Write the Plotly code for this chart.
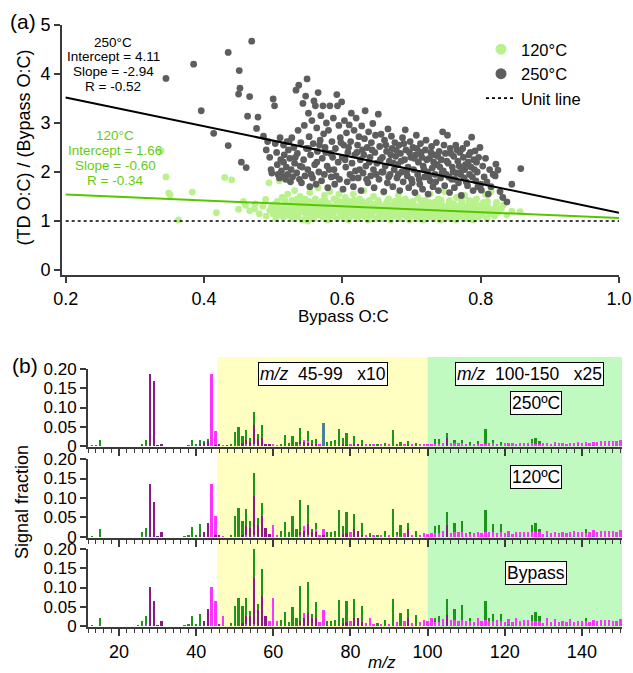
import plotly.graph_objects as go

# ---------------- Panel (a) data ----------------
gray_x = [0.345,0.385,0.396,0.414,0.435,0.435,0.450,0.451,0.452,0.454,0.461,0.463,0.466,0.469,0.476,0.478,0.486,0.490,0.492,0.495,0.497,0.498,
 0.500,0.502,0.503,0.505,0.506,0.507,0.509,0.510,0.511,0.512,0.513,0.515,0.516,0.518,0.519,0.520,
 0.521,0.522,0.524,0.525,0.526,0.527,0.528,0.530,0.531,0.533,0.534,0.535,0.536,0.537,0.538,0.539,0.540,0.541,0.543,0.544,0.545,0.546,0.547,0.548,0.549,0.550,
 0.551,0.552,0.553,0.554,0.556,0.557,0.558,0.559,0.560,0.561,0.562,0.563,0.564,0.565,0.566,0.568,0.569,0.570,0.571,0.572,0.573,0.574,0.575,0.577,0.578,0.579,0.580,0.582,0.583,0.584,0.585,0.587,0.588,0.589,0.590,0.592,0.593,0.594,0.595,0.596,0.597,0.599,0.600,
 0.601,0.602,0.603,0.605,0.606,0.607,0.608,0.610,0.611,0.612,0.613,0.614,0.616,0.617,0.618,0.619,0.620,0.622,0.623,0.624,0.626,0.627,0.628,0.629,0.630,0.632,0.633,0.634,0.636,0.637,0.638,0.640,0.641,0.642,0.644,0.645,0.646,0.647,0.648,0.650,
 0.652,0.653,0.654,0.656,0.657,0.658,0.660,0.661,0.662,0.664,0.665,0.666,0.668,0.669,0.671,0.672,0.673,0.675,0.676,0.677,0.679,0.680,0.682,0.683,0.684,0.686,0.687,0.688,0.690,0.691,0.692,0.694,0.695,0.696,0.698,0.699,0.700,
 0.702,0.703,0.705,0.706,0.707,0.709,0.710,0.712,0.713,0.714,0.716,0.717,0.719,0.720,0.721,0.723,0.724,0.726,0.727,0.729,0.730,0.731,0.733,0.734,0.736,0.737,0.739,0.740,0.742,0.743,0.745,0.746,0.748,0.749,0.750,
 0.752,0.753,0.755,0.756,0.758,0.759,0.761,0.762,0.764,0.765,0.767,0.768,0.770,0.772,0.773,0.775,0.776,0.778,0.780,0.781,0.783,0.784,0.786,0.787,0.789,0.790,0.792,0.793,0.795,0.797,0.799,0.800,
 0.801,0.803,0.805,0.807,0.809,0.811,0.813,0.815,0.818,0.821,0.822,0.825,0.828,0.832,0.838,0.845,0.858,
 0.515,0.523,0.532,0.542,0.551,0.555,0.563,0.567,0.576,0.581,0.586,0.591,0.598,0.604,0.609,0.615,0.621,0.625,0.631,0.635,
 0.639,0.643,0.649,0.655,0.659,0.663,0.667,0.670,0.674,0.678,0.681,0.685,0.689,0.693,0.697,0.701,0.704,0.708,0.711,0.715,
 0.718,0.722,0.725,0.728,0.732,0.735,0.738,0.741,0.744,0.747,0.751,0.754,0.757,0.760,0.763,0.766,0.769,0.771,0.774,0.777,
 0.779,0.782,0.785,0.788,0.791,0.794,0.796]
gray_y = [3.91,4.20,3.25,2.79,4.44,2.54,3.59,4.07,3.71,2.20,2.09,3.14,3.54,4.67,2.89,3.12,2.73,2.45,2.62,2.30,2.05,1.98,
 3.49,3.35,2.58,2.40,2.15,1.95,1.88,2.70,2.25,2.02,1.92,2.55,2.35,1.85,2.10,2.62,
 1.95,2.45,2.28,1.80,2.05,2.70,1.90,2.50,2.18,3.67,1.98,2.38,2.85,3.77,1.85,2.12,2.60,1.78,3.40,2.25,2.95,1.92,3.55,2.48,3.90,2.05,
 3.20,2.72,1.70,2.35,3.05,1.88,2.58,3.45,2.15,3.35,1.75,2.90,2.42,3.62,2.00,2.65,3.15,1.82,2.28,3.35,2.78,1.95,2.50,3.00,2.12,1.68,2.85,3.35,2.38,1.90,2.62,3.10,2.05,1.75,2.48,3.58,3.35,2.20,2.95,1.85,2.70,3.43,2.30,
 1.65,2.55,3.05,2.10,2.80,1.80,2.40,2.96,1.95,2.62,3.20,2.18,1.70,2.85,2.35,2.02,3.10,2.55,1.88,2.72,2.25,1.62,2.94,2.45,1.98,2.68,3.25,2.12,2.50,1.78,2.82,2.30,1.92,2.60,2.99,2.05,1.68,2.40,2.75,2.18,
 3.18,1.85,2.52,2.77,2.00,2.30,1.60,2.65,2.12,2.42,1.78,2.88,2.22,1.95,2.73,2.48,1.70,2.05,2.60,2.32,1.88,2.15,2.55,1.62,2.38,2.00,2.70,1.80,2.25,2.86,2.45,1.92,2.10,1.68,2.62,2.30,1.85,
 2.50,2.05,1.58,2.35,2.75,1.95,2.20,1.75,2.58,2.40,1.65,2.12,1.90,2.45,2.65,2.00,1.55,2.28,1.82,2.52,2.08,1.70,2.35,1.95,2.60,2.15,1.62,2.42,1.88,2.25,2.82,2.02,1.72,2.38,1.95,
 2.75,2.18,1.58,2.48,1.85,2.10,2.32,1.68,2.55,1.98,2.22,1.78,2.40,1.52,2.05,2.30,1.88,2.15,2.58,1.72,2.35,1.95,2.10,2.71,1.62,2.25,2.43,1.82,2.00,2.30,2.50,1.75,
 1.63,2.12,1.90,2.28,1.80,1.55,2.05,1.70,1.95,1.92,2.16,2.04,1.60,1.48,1.39,1.75,2.07,
 2.20,2.62,2.30,2.10,2.48,1.95,2.20,2.55,2.40,2.05,2.30,1.92,2.60,2.25,2.50,1.88,2.40,2.05,2.35,1.85,
 2.20,2.45,1.95,2.25,2.00,2.55,1.90,2.35,2.18,2.45,1.95,2.22,2.58,2.02,2.40,1.78,2.28,2.48,1.85,2.30,
 2.05,2.25,1.92,2.40,2.20,1.80,2.32,2.10,1.98,2.55,2.22,1.90,2.38,2.00,1.85,2.45,2.12,1.95,2.48,2.05,
 1.80,2.20,2.40,1.90,2.05,2.20,1.70]

green_x = [0.338,0.345,0.349,0.351,0.363,0.383,0.418,0.430,0.440,0.450,0.457,0.460,0.466,0.473,0.474,0.480,0.485,0.489,0.490,0.494,0.495,0.498,
 0.500,0.502,0.504,0.505,0.506,0.508,0.509,0.510,0.512,0.513,0.515,0.516,0.518,0.519,0.521,0.522,0.524,0.525,0.527,0.528,0.530,0.531,0.533,0.534,0.536,0.537,0.539,0.540,0.542,0.543,0.545,0.546,0.548,0.549,0.550,
 0.552,0.553,0.555,0.556,0.558,0.559,0.561,0.562,0.564,0.565,0.567,0.568,0.570,0.571,0.573,0.574,0.576,0.577,0.579,0.580,0.582,0.583,0.585,0.586,0.588,0.589,0.591,0.592,0.594,0.595,0.597,0.598,0.600,
 0.601,0.603,0.604,0.606,0.607,0.609,0.610,0.612,0.613,0.615,0.616,0.618,0.619,0.621,0.622,0.624,0.625,0.627,0.628,0.630,0.631,0.633,0.634,0.636,0.637,0.639,0.640,0.642,0.643,0.645,0.646,0.648,0.649,
 0.651,0.652,0.654,0.655,0.657,0.658,0.660,0.661,0.663,0.664,0.666,0.667,0.669,0.670,0.672,0.673,0.675,0.676,0.678,0.679,0.681,0.682,0.684,0.685,0.687,0.688,0.690,0.691,0.693,0.694,0.696,0.697,0.699,0.700,
 0.702,0.703,0.705,0.706,0.708,0.709,0.711,0.712,0.714,0.715,0.717,0.718,0.720,0.721,0.723,0.724,0.726,0.727,0.729,0.730,0.732,0.733,0.735,0.736,0.738,0.739,0.741,0.742,0.744,0.745,0.747,0.748,0.750,
 0.752,0.753,0.755,0.756,0.758,0.759,0.761,0.762,0.764,0.765,0.767,0.768,0.770,0.771,0.773,0.774,0.776,0.777,0.779,0.780,0.782,0.783,0.785,0.786,0.788,0.789,0.791,0.792,0.794,0.795,0.797,0.798,0.800,
 0.802,0.804,0.806,0.807,0.809,0.811,0.813,0.815,0.818,0.820,0.822,0.825,0.828,0.833,0.838,0.845,0.857,
 0.503,0.511,0.517,0.523,0.529,0.535,0.541,0.547,0.551,0.557,0.563,0.569,0.575,0.581,0.587,0.593,0.599,0.605,0.611,0.617,
 0.623,0.629,0.635,0.641,0.647,0.653,0.659,0.665,0.671,0.677,0.683,0.689,0.695,0.701,0.707,0.713,0.719,0.725,0.731,0.737,
 0.743,0.749,0.754,0.760,0.766,0.772,0.778,0.784,0.790,0.796,0.803,0.810,0.816,0.823,0.830]
green_y = [2.43,1.90,1.57,1.53,1.02,1.59,1.17,1.89,1.84,1.24,1.40,1.32,1.21,1.25,1.35,1.15,1.30,1.44,1.10,1.78,1.22,1.30,
 1.15,1.28,1.05,1.22,1.40,1.12,1.82,1.30,1.18,1.48,1.08,1.25,1.35,1.15,1.55,1.20,1.10,1.32,1.42,1.05,1.25,1.62,1.15,1.35,1.08,1.28,1.50,1.18,1.38,1.02,1.25,1.45,1.12,1.32,1.00,
 1.22,1.58,1.10,1.38,1.28,1.05,1.45,1.18,1.35,1.68,1.12,1.25,1.40,1.08,1.30,1.52,1.15,1.22,1.02,1.36,1.60,1.18,1.28,1.10,1.45,1.20,1.33,1.05,1.25,1.55,1.15,1.38,1.22,
 1.08,1.30,1.48,1.15,1.25,1.02,1.40,1.20,1.32,1.10,1.55,1.26,1.15,1.38,1.05,1.22,1.45,1.12,1.30,1.18,1.62,1.08,1.35,1.25,1.02,1.42,1.15,1.28,1.10,1.50,1.20,1.35,1.05,
 1.25,1.42,1.12,1.30,1.05,1.22,1.58,1.15,1.35,1.08,1.28,1.45,1.18,1.02,1.32,1.22,1.10,1.40,1.25,1.15,1.52,1.05,1.30,1.20,1.38,1.12,1.25,1.45,1.08,1.18,1.32,1.02,1.28,1.15,
 1.40,1.22,1.10,1.30,1.05,1.48,1.18,1.25,1.12,1.35,1.02,1.22,1.42,1.15,1.30,1.08,1.20,1.55,1.12,1.28,1.05,1.38,1.18,1.25,1.10,1.45,1.20,1.02,1.32,1.15,1.25,1.60,1.08,
 1.30,1.18,1.42,1.05,1.22,1.12,1.35,1.25,1.02,1.48,1.15,1.28,1.08,1.20,1.38,1.12,1.25,1.52,1.05,1.30,1.18,1.42,1.10,1.22,1.35,1.02,1.28,1.15,1.45,1.20,1.08,1.32,1.25,
 1.12,1.38,1.20,1.54,1.05,1.28,1.15,1.60,1.22,1.10,1.30,1.18,1.25,1.33,1.12,1.20,1.19,
 1.35,1.22,1.42,1.28,1.18,1.45,1.30,1.20,1.40,1.15,1.30,1.20,1.42,1.10,1.30,1.42,1.12,1.35,1.28,1.42,
 1.32,1.40,1.15,1.35,1.25,1.35,1.18,1.40,1.12,1.32,1.42,1.18,1.38,1.28,1.18,1.42,1.30,1.38,1.20,1.32,
 1.42,1.22,1.35,1.18,1.30,1.42,1.20,1.30,1.40,1.18,1.30,1.40,1.20,1.38,1.25]

# linear fits (intercept, slope) as printed on the chart
fit_250 = (4.11, -2.94)
fit_120 = (1.66, -0.60)
fit_x = [0.2, 1.0]
unit_y = [1.0, 1.0]

# ---------------- Panel (b) data ----------------
# displayed signal fraction in units of 0.001 (m/z 45-99 shown x10, 100-150 shown x25)
mz = list(range(12, 151))

g_250 = {13:1,14:1,15:15,26:6,27:12,38:2,39:15,40:3,41:12,42:2,43:2,48:1,49:5,50:37,51:50,52:18,53:26,54:10,55:34,56:14,57:35,
         62:6,63:29,64:8,65:26,66:10,67:34,69:26,70:10,71:13,74:10,75:12,76:16,77:44,78:16,79:32,81:22,83:14,85:6,87:4,89:8,
         91:42,92:6,93:10,95:12,97:7,102:12,103:12,105:15,107:8,109:8,111:5,113:5,115:40,117:9,119:5,127:10,128:17,129:6}
p_250 = {28:187,29:170,30:2,31:4,41:2,42:9,43:14,45:3,46:4,52:8,53:12,54:10,55:50,56:17,57:20,58:6,59:3,67:10,68:10,69:8,
         70:5,71:6,78:6,79:3,81:4,82:6,83:2,95:2,105:20}
k_250 = {44:187,45:37,47:2,60:5,61:2,68:6,69:5,72:4,80:4,84:4,86:3,88:3,90:3,94:3,96:4,98:4,99:4,100:6,101:6,102:5,103:6,
         104:8,106:8,107:7,108:7,109:7,110:6,111:5,112:6,113:7,114:6,115:5,116:7,117:7,118:6,119:5,120:7,121:6,122:8,123:6,
         124:7,125:7,126:7,127:7,128:5,129:6,130:7,131:9,132:6,133:8,134:7,135:8,136:6,137:9,138:7,139:8,140:9,141:10,142:8,
         143:7,144:11,145:12,146:13,147:12,148:14,149:12,150:15}
b_250 = {27:3,41:2,53:4,55:5,67:4,121:3,126:2,133:3,139:2,143:3}
t_250 = {73:61}

g_120 = {13:2,15:20,26:13,27:20,37:2,38:4,39:26,40:5,41:28,49:6,50:54,51:74,52:35,53:45,54:18,55:58,56:17,57:31,62:15,63:38,
         64:12,65:53,66:20,67:84,69:50,70:7,71:16,74:12,75:12,76:15,77:70,78:20,79:54,81:39,83:30,85:10,87:6,89:15,91:73,92:8,
         93:31,95:15,97:15,102:17,103:21,105:33,107:23,109:28,111:4,115:56,117:20,119:21,127:18,128:25,129:8,141:10}
p_120 = {28:135,29:90,30:2,31:12,41:3,42:13,43:37,45:4,46:4,52:6,53:22,54:22,55:100,56:31,57:55,58:24,59:8,67:8,68:16,69:28,
         70:13,71:12,73:6,78:8,79:10,81:20,82:15,83:5,95:20,105:30}
k_120 = {44:135,45:50,47:2,60:31,61:6,68:13,71:8,72:4,73:15,80:12,84:6,86:4,88:5,90:4,92:4,94:10,96:6,98:6,99:10,100:8,101:10,
         102:10,103:10,104:12,106:10,107:12,108:12,109:12,110:10,111:8,112:10,113:12,114:10,115:12,116:12,117:13,118:10,119:12,
         120:10,121:12,122:8,123:12,124:10,125:13,126:12,127:12,128:12,129:12,130:8,131:13,132:10,133:12,134:10,135:14,136:10,
         137:13,138:12,139:12,140:13,141:10,142:12,143:14,144:12,145:16,146:16,147:16,148:16,149:14,150:18}
b_120 = {27:4,41:2,53:5,55:5,67:4,69:5,104:3,121:3,124:3,131:3,138:3,143:3}

g_byp = {13:2,15:20,25:1,26:14,27:22,37:2,38:4,39:26,40:6,41:28,49:9,50:53,51:72,52:44,53:48,54:13,55:76,56:15,57:69,62:15,
         63:36,64:10,65:49,66:20,67:91,69:79,70:10,71:43,74:12,75:12,76:15,77:68,78:12,79:55,81:50,83:42,87:7,89:15,91:70,93:35,
         95:24,97:29,102:12,103:15,105:42,107:28,109:40,111:8,115:50,116:8,117:18,119:18,127:16,128:25,129:13,141:8}
p_byp = {28:101,29:64,30:2,31:12,41:3,42:14,43:43,46:3,52:8,53:22,54:26,55:119,56:42,57:79,58:26,67:10,68:20,69:35,70:20,71:20,
         78:8,79:10,81:20,82:20,83:10,95:20,105:28}
k_byp = {44:101,45:65,47:26,59:12,60:72,61:12,68:13,72:10,73:42,80:14,84:7,85:20,86:5,88:5,90:5,92:10,94:12,96:8,98:10,99:15,
         100:12,101:20,102:10,103:10,104:14,106:15,107:15,108:14,109:15,110:12,111:12,112:10,113:20,114:12,115:15,116:12,117:12,
         118:12,119:12,120:10,121:15,122:10,123:20,124:12,125:15,126:12,127:12,128:12,129:12,130:8,131:20,132:10,133:15,134:10,
         135:12,136:10,137:18,138:10,139:12,140:10,141:12,142:10,143:15,144:12,145:16,146:16,147:16,148:14,149:12,150:18}
b_byp = {27:4,53:4,55:5,67:3,104:3,118:3,121:4,126:3,133:3,140:3}

spectra_labels = ["250ºC", "120ºC", "Bypass"]
y_ticks = [0, 0.05, 0.10, 0.15, 0.20]
y_ticktext = ["0", "0.05", "0.10", "0.15", "0.20"]

# ---------------- styling ----------------
W, H = 633, 673
FONT = "Arial, Liberation Sans, sans-serif"
AX = "#3a3a3a"
C_GRAY = "#5e5e5e"
C_LGREEN = "#b9f28c"
C_FITG = "#55c600"
C_TXTG = "#66cc11"
C_G = "#1b961b"
C_P = "#8a1a86"
C_K = "#ff33ff"
C_B = "#6a62e0"
C_T = "#4a7f98"

def px(x):
    return x / W

def py(y):
    return 1 - y / H

fig = go.Figure()

# panel (a)
fig.add_trace(go.Scatter(x=green_x, y=green_y, mode="markers", marker=dict(color=C_LGREEN, size=6.8),
                         showlegend=False, xaxis="x", yaxis="y"))
fig.add_trace(go.Scatter(x=gray_x, y=gray_y, mode="markers", marker=dict(color=C_GRAY, size=6.8),
                         showlegend=False, xaxis="x", yaxis="y"))
fig.add_trace(go.Scatter(x=fit_x, y=unit_y, mode="lines", line=dict(color="black", width=1.6, dash="dot"),
                         showlegend=False, xaxis="x", yaxis="y"))
fig.add_trace(go.Scatter(x=fit_x, y=[fit_120[0] + fit_120[1] * v for v in fit_x], mode="lines",
                         line=dict(color=C_FITG, width=2), showlegend=False, xaxis="x", yaxis="y"))
fig.add_trace(go.Scatter(x=fit_x, y=[fit_250[0] + fit_250[1] * v for v in fit_x], mode="lines",
                         line=dict(color="black", width=2), showlegend=False, xaxis="x", yaxis="y"))
# legend entries
fig.add_trace(go.Scatter(x=[None], y=[None], mode="markers", marker=dict(color=C_LGREEN, size=11), name="120°C",
                         xaxis="x", yaxis="y"))
fig.add_trace(go.Scatter(x=[None], y=[None], mode="markers", marker=dict(color=C_GRAY, size=11), name="250°C",
                         xaxis="x", yaxis="y"))
fig.add_trace(go.Scatter(x=[None], y=[None], mode="lines", line=dict(color="black", width=1.6, dash="dot"),
                         name="Unit line", xaxis="x", yaxis="y"))

# panel (b)
spectra = [
    (b_250, t_250, p_250, k_250, g_250),
    (b_120, {}, p_120, k_120, g_120),
    (b_byp, {}, p_byp, k_byp, g_byp),
]
fam_colors = [C_B, C_T, C_P, C_K, C_G]
for i, fams in enumerate(spectra):
    n = i + 2
    for fam, col in zip(fams, fam_colors):
        if not fam:
            continue
        fig.add_trace(go.Bar(x=mz, y=[fam.get(m, 0) / 1000 for m in mz], marker=dict(color=col, line=dict(width=0)),
                             width=0.6, showlegend=False, xaxis=f"x{n}", yaxis=f"y{n}"))

axis_common = dict(showline=True, linecolor=AX, linewidth=2, ticks="outside", tickcolor=AX, tickwidth=1.5,
                   showgrid=False, zeroline=False, automargin=False,
                   tickfont=dict(size=18, color="black", family=FONT))

layout = dict(
    width=W, height=H, margin=dict(l=0, r=0, t=0, b=0, autoexpand=False),
    paper_bgcolor="white", plot_bgcolor="rgba(0,0,0,0)",
    font=dict(family=FONT, color="black"),
    barmode="stack", bargap=0,
    xaxis=dict(domain=[px(62), px(619)], range=[0.1947, 1.0], tickvals=[0.2, 0.4, 0.6, 0.8, 1.0],
               ticktext=["0.2", "0.4", "0.6", "0.8", "1.0"], ticklen=6, anchor="y", **axis_common),
    yaxis=dict(domain=[py(275), py(25)], range=[-0.102, 5.0], tickvals=[0, 1, 2, 3, 4, 5], ticklen=6,
               anchor="x", **axis_common),
    legend=dict(x=px(481), y=py(32), xanchor="left", yanchor="top", bgcolor="rgba(0,0,0,0)",
                traceorder="normal",
                font=dict(size=16.5, family=FONT, color="black"), tracegroupgap=0, itemwidth=30),
)

yd = [(369, 447), (459, 538), (549, 627)]
for i, (top, bot) in enumerate(yd):
    n = i + 2
    xa = dict(axis_common)
    xa.update(domain=[px(88), px(622)], range=[11.96, 150.4], tickvals=[20, 40, 60, 80, 100, 120, 140],
              ticklen=7, anchor=f"y{n}", showticklabels=(n == 4),
              minor=dict(dtick=2, tick0=0, ticklen=4, ticks="outside", tickcolor=AX, tickwidth=1.2))
    if n != 2:
        xa["matches"] = "x2"
    ya = dict(axis_common)
    ya.update(domain=[py(bot), py(top)], range=[-0.0026, 0.2], tickvals=y_ticks, ticktext=y_ticktext,
              ticklen=6, anchor=f"x{n}", tickfont=dict(size=17, color="black", family=FONT))
    layout[f"xaxis{n}"] = xa
    layout[f"yaxis{n}"] = ya

fig.update_layout(**layout)

# shaded m/z ranges
fig.add_shape(type="rect", xref="x2", yref="paper", x0=45.4, x1=100, y0=py(627), y1=py(357),
              fillcolor="#ffffc2", line=dict(width=0), layer="below")
fig.add_shape(type="rect", xref="x2", yref="paper", x0=100, x1=150.4, y0=py(627), y1=py(357),
              fillcolor="#c0fac0", line=dict(width=0), layer="below")

def ann(text, x, y, size, color="black", angle=0, **kw):
    fig.add_annotation(text=text, x=px(x), y=py(y), xref="paper", yref="paper", showarrow=False,
                       xanchor="center", yanchor="middle", textangle=angle,
                       font=dict(size=size, color=color, family=FONT), **kw)

ann("(a)", 23, 22, 21)
ann("(b)", 25, 366, 21)
ann("(TD O:C) / (Bypass O:C)", 23.5, 148, 18, angle=-90)
ann("Bypass O:C", 343, 316, 17)
ann("Signal fraction", 22, 502, 18, angle=-90)
ann("<i>m/z</i>", 382, 662.5, 17)

for txt, yy in zip(["250°C", f"Intercept = {fit_250[0]:.2f}", f"Slope = {fit_250[1]:.2f}", "R = -0.52"],
                   [42, 56.7, 71.7, 86.7]):
    ann(txt, 113, yy, 13.5)
for txt, yy in zip(["120°C", f"Intercept = {fit_120[0]:.2f}", f"Slope = {fit_120[1]:.2f}", "R = -0.34"],
                   [136, 150.7, 165.7, 180.7]):
    ann(txt, 115, yy, 13.5, color=C_TXTG)

box = dict(bordercolor="black", borderwidth=1, borderpad=1, bgcolor="white")
nb = "\u00a0"
ann(f"<i>m/z</i>{nb*2}45-99{nb*3}x10", 323, 374, 17.5, **box)
ann(f"<i>m/z</i>{nb*2}100-150{nb*3}x25", 529.7, 374, 17.5, **box)
ann(spectra_labels[0], 535.5, 402.5, 17.5, **box)
ann(spectra_labels[1], 535.5, 477, 17.5, **box)
ann(spectra_labels[2], 535.5, 572.5, 17.5, **box)

fig.write_html("out.html", config={"displayModeBar": False},
               post_script="document.body.style.margin='0';document.body.style.overflow='hidden';")
